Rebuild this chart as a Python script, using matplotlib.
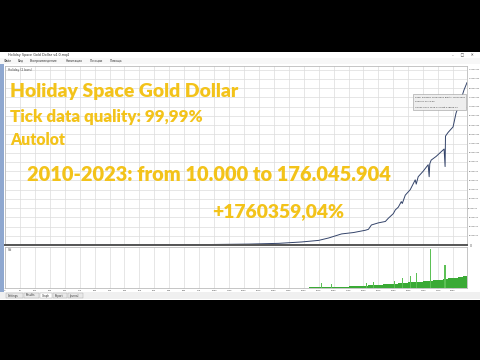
import matplotlib
matplotlib.use('Agg')
import matplotlib.pyplot as plt
import numpy as np
from matplotlib.patches import Rectangle
from matplotlib import ticker

W, H = 480, 360

# balance curve: trade number vs balance (millions)
trades = [0, 475, 975, 1225, 1375, 1490, 1575, 1625, 1690, 1750, 1810, 1825, 1840,
          1875, 1910, 1925, 1950, 1960, 1975, 1990, 1995, 2010, 2035, 2060, 2065,
          2075, 2100, 2125, 2130, 2133, 2140, 2165, 2190, 2205, 2210, 2212, 2225,
          2250, 2265, 2290, 2305, 2320]
balance_m = [0.01, 0.1, 0.4, 1.0, 1.8, 3.3, 5.0, 7.6, 12.0, 13.5, 16.0, 17.0, 21.7,
             24.0, 25.5, 29.0, 34.0, 38.0, 41.0, 47.0, 45.0, 54.0, 60.0, 70.6, 66.0,
             74.0, 80.0, 87.0, 74.0, 88.0, 92.0, 96.0, 101.0, 104.0, 85.0, 118.0, 122.0,
             128.0, 143.0, 158.0, 168.0, 176.0]

# volume histogram (lots), bars every 25 trades from trade 1475
vol_start, vol_step = 1475, 25
vol_lots = [0.4, 0.5, 0.6, 0.8, 0.9, 1.0, 1.1, 1.2, 1.4, 1.5, 1.7, 1.9, 2.1, 2.4, 2.7,
            3.0, 3.3, 3.6, 3.9, 4.3, 4.7, 5.1, 5.6, 6.0, 6.5, 7.0, 7.5, 8.0, 8.5, 9.0,
            9.6, 10.2, 10.9, 11.7, 13.0]
spike_trades = [1590, 1640, 1815, 1850, 1955, 1995, 2035, 2065, 2135, 2210]
spike_lots = [5, 4, 5, 6, 7, 10, 12, 15, 39, 23]

title_lines = ["Holiday Space Gold Dollar", "Tick data quality: 99,99%", "Autolot"]
range_text = "2010-2023: from 10.000 to 176.045.904"
gain_text = "+1760359,04%"
menu_items = ["Файл", "Вид", "Воспроизведение", "Навигация", "Позиции", "Помощь"]
tab_names = ["Settings", "Results", "Graph", "Report", "Journal"]
tooltip = ["2305: Balance 176045904 Equity 176073038",
           "2023.07.13 14:00",
           "#1234 close 1925.17 profit 578805.32"]

YELLOW = '#f3c31a'


def box(x0, y0, x1, y1):
    return [x0 / W, 1 - y1 / H, (x1 - x0) / W, (y1 - y0) / H]


def rect(x0, y0, x1, y1, z=-5, **kw):
    fig.patches.append(Rectangle((x0 / W, 1 - y1 / H), (x1 - x0) / W, (y1 - y0) / H,
                                 transform=fig.transFigure, figure=fig, zorder=z, **kw))


def fit_text(x0, x1, y, s, **kw):
    t = fig.text(x0 / W, 1 - y / H, s, va='center', ha='left', zorder=10, **kw)
    r = fig.canvas.get_renderer()
    bb = t.get_window_extent(renderer=r)
    t.set_fontsize(t.get_fontsize() * (x1 - x0) / bb.width)
    return t


fig = plt.figure(figsize=(4.8, 3.6), dpi=100, facecolor='black')

# terminal window
rect(0, 52, 480, 300, facecolor='white', edgecolor='none')
rect(0, 58, 480, 64, facecolor='#f7f7f7', edgecolor='none')
rect(0, 64, 4, 299, facecolor='#8fa8d0', edgecolor='none')
rect(0, 292, 480, 299, facecolor='#f0f0f0', edgecolor='none')
fig.text(8 / W, 1 - 55 / H, "Holiday Space Gold Dollar v4.0.mq4", fontsize=2.4,
         color='#333333', va='center')
fig.text(452 / W, 1 - 55 / H, "–      □      ✕", fontsize=2.6, color='#333333', va='center')
mx = 4
for m in menu_items:
    fig.text(mx / W, 1 - 61 / H, m, fontsize=2.2, color='#333333', va='center')
    mx += len(m) * 2.0 + 6

# main balance chart
ax = fig.add_axes(box(5, 66, 467, 245))
ax.plot(trades, [b * 1e6 for b in balance_m], color='#34446a', lw=0.7)
ax.set_xlim(0, 2320)
ax.set_ylim(0, 194e6)
ax.yaxis.set_major_locator(ticker.MultipleLocator(10e6))
ax.xaxis.set_major_locator(ticker.MultipleLocator(75))
ax.yaxis.set_major_formatter(ticker.FuncFormatter(lambda v, p: f"{v:.0f}" if v > 0 else ""))
ax.yaxis.tick_right()
ax.tick_params(axis='y', labelsize=1.4, length=0, pad=1.0, labelcolor='#444444')
ax.tick_params(axis='x', labelbottom=False, length=0)
ax.grid(True, color='#dcdcdc', lw=0.5)
ax.set_axisbelow(True)
for s in ['top', 'left', 'right']:
    ax.spines[s].set_color('#bbbbbb')
    ax.spines[s].set_linewidth(0.6)
ax.spines['bottom'].set_color('#555555')
ax.spines['bottom'].set_linewidth(1.4)
ax.text(0.006, 0.99, "Holiday (2 bars)", transform=ax.transAxes, fontsize=2.2,
        color='#444444', va='top')

# tooltip
rect(413, 94, 466, 110, z=5, facecolor='#eeeeee', edgecolor='#999999', lw=0.4)
for i, line in enumerate(tooltip):
    fig.text(415 / W, 1 - (97 + 5 * i) / H, line, fontsize=1.6, color='#333333',
             va='center', zorder=6)

# volume chart
av = fig.add_axes(box(5, 247, 467, 288))
pos = np.arange(len(vol_lots)) * vol_step + vol_start
av.bar(pos, vol_lots, width=vol_step, align='edge', color='#3aaa35', edgecolor='none')
av.bar(spike_trades, spike_lots, width=6, color='#5cc055', edgecolor='none')
av.set_xlim(0, 2320)
av.set_ylim(0, 41)
av.xaxis.set_major_locator(ticker.MultipleLocator(75))
av.xaxis.set_major_formatter(ticker.FuncFormatter(lambda v, p: f"{v:.0f}"))
av.tick_params(axis='x', labelsize=1.6, length=1, width=0.3, pad=0.6,
               labelcolor='#444444', color='#888888')
av.set_yticks([])
av.grid(True, axis='x', color='#dcdcdc', lw=0.5)
av.set_axisbelow(True)
for s in av.spines.values():
    s.set_color('#bbbbbb')
    s.set_linewidth(0.6)
av.text(0.006, 0.97, "Vol", transform=av.transAxes, fontsize=2.2, color='#444444',
        va='top')
fig.text(470 / W, 1 - 246 / H, "0", fontsize=2.2, color='#444444', va='center')

# tabs
tx = 6
for name in tab_names:
    w = len(name) * 1.6 + 4
    rect(tx, 293, tx + w, 298, z=5, facecolor='white' if name == 'Graph' else '#e8e8e8',
         edgecolor='#aaaaaa', lw=0.3)
    fig.text((tx + 2) / W, 1 - 295.5 / H, name, fontsize=1.9, color='#333333',
             va='center', zorder=6)
    tx += w + 1

# overlay captions
cap = dict(family='Lato', weight='heavy', color=YELLOW)
fit_text(10, 238, 91, title_lines[0], fontsize=16, **cap)
fit_text(10, 204, 117, title_lines[1], fontsize=14, **cap)
fit_text(10, 65, 140, title_lines[2], fontsize=14, **cap)
fit_text(27, 392, 174, range_text, fontsize=16, **cap)
fit_text(212, 345, 212, gain_text, fontsize=16, **cap)

fig.savefig('out.png', dpi=100, facecolor='black')
